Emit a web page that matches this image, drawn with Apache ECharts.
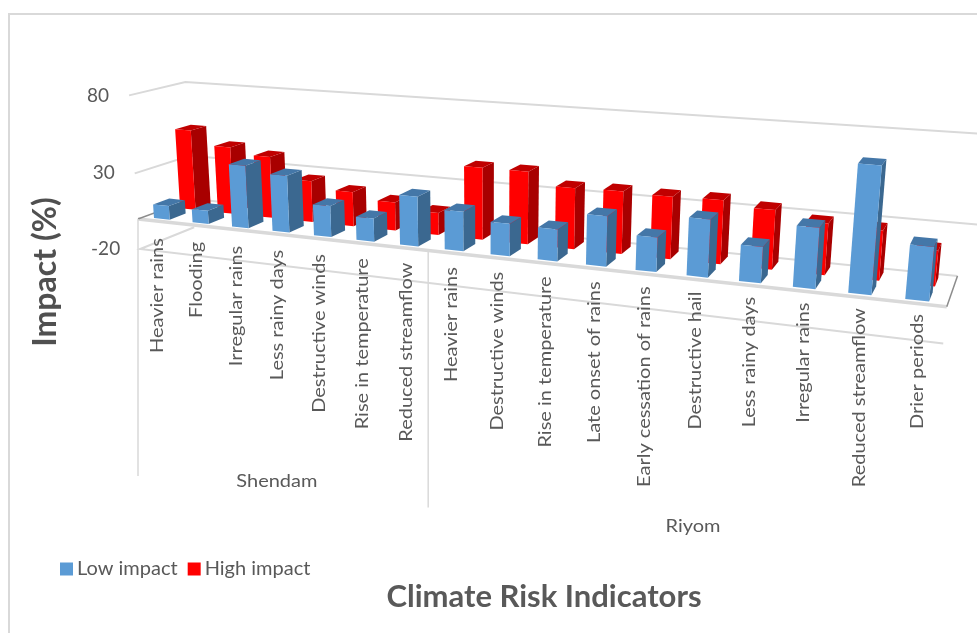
<!DOCTYPE html>
<html><head><meta charset="utf-8">
<style>html,body{margin:0;padding:0;background:#fff}#c{width:977px;height:633px}</style>
<script src="https://cdn.jsdelivr.net/npm/echarts@6/dist/echarts.min.js"></script>
</head><body><div id="c"></div>
<script>
const categories = ["Heavier rains","Flooding","Irregular rains","Less rainy days","Destructive winds","Rise in temperature","Reduced streamflow","Heavier rains","Destructive winds","Rise in temperature","Late onset of rains","Early cessation of rains","Destructive hail","Less rainy days","Irregular rains","Reduced streamflow","Drier periods"];
const lowImpact  = [9,8.5,40,36,19.5,14.5,30.5,24,19.5,19,29.5,20,33,20.5,34,70,29.5];
const highImpact = [53,44,40,26.5,22,18,14,44.5,44.5,37,37.5,37,37.5,34.5,29.5,28.5,20];
const valueTicks = [80,30,-20];
const groups = [{name:"Shendam",at:3.5},{name:"Riyom",at:12.45}];
const separators = [0,7];
const FONT = 'Lato';
const TXT = '#595959';
const LINE = '#d9d9d9';
const N = categories.length;

// perspective model: three vanishing points
const VX=[-3085,-131], VY=[488,5080], VZ=[1100,-136];
const CX=-0.0118, CY=-0.00031, CZ=0.06, O=[138,219];
function proj(api,a,b,d){
  const p=api.coord([a,b]), o=api.coord([0,0]), e=api.coord([1,1]);
  const u=(p[0]-o[0])/(e[0]-o[0]), v=(p[1]-o[1])/(e[1]-o[1]);
  const w=1+u*CX+v*CY+d*CZ;
  return [(O[0]+u*CX*VX[0]+v*CY*VY[0]+d*CZ*VZ[0])/w,(O[1]+u*CX*VX[1]+v*CY*VY[1]+d*CZ*VZ[1])/w];
}
function barItem(front,side,top,d0,d1){
  return function(params,api){
    const i=api.value(0), val=api.value(1), a=i+0.27, b=i+0.68;
    const P=(u,v,d)=>proj(api,u,v,d);
    const poly=(pts,fill)=>({type:'polygon',shape:{points:pts},style:{fill:fill}});
    return {type:'group',children:[
      poly([P(b,0,d0),P(b,0,d1),P(b,val,d1),P(b,val,d0)],side),
      poly([P(a,val,d0),P(b,val,d0),P(b,val,d1),P(a,val,d1)],top),
      poly([P(a,0,d0),P(b,0,d0),P(b,val,d0),P(a,val,d0)],front)
    ]};
  };
}
const line=(pts,w,c)=>({type:'polyline',shape:{points:pts},style:{fill:null,stroke:c||LINE,lineWidth:w}});
const TX=1.11;
const option={
  animation:false,
  grid:{left:138,top:94,width:809,height:156,show:false},
  xAxis:{type:'value',min:0,max:N,show:false},
  yAxis:{type:'value',min:-20,max:80,interval:50,show:false},
  legend:{left:55,top:554,data:['Low impact','High impact'],icon:'rect',itemWidth:13,itemHeight:13,itemGap:10,
    textStyle:{fontFamily:FONT,fontSize:20,color:TXT,padding:[0,0,0,-1]}},
  graphic:[
    {type:'rect',z:-1,shape:{x:9,y:14,width:1100,height:800},style:{fill:'#fff',stroke:LINE,lineWidth:2}},
    {type:'text',x:46,y:272,rotation:Math.PI/2,z:5,style:{text:'Impact (%)',font:'bold 32px '+FONT,fill:'#505050',align:'center',verticalAlign:'middle'}},
    {type:'text',x:544,y:597,z:5,style:{text:'Climate Risk Indicators',font:'bold 31px '+FONT,fill:TXT,align:'center',verticalAlign:'middle'}}
  ],
  series:[
    {type:'custom',name:'walls',coordinateSystem:'cartesian2d',silent:true,z:1,data:valueTicks.map(v=>[0,v]),
     renderItem(p,api){
       const v=api.value(1);
       const P=(u,val,d)=>proj(api,u,val,d);
       const kids=[];
       if(v===-20){ kids.push(line([P(0,v,1),P(0,v,0),P(N,v,0)],2)); }
       else kids.push(line([P(0,v,0),P(0,v,1),P(N+0.4,v,1)],2));
       const t=P(0,v,0);
       kids.push({type:'text',x:t[0]-20,y:t[1]+0,style:{text:String(v),font:'19px '+FONT,fill:TXT,align:'right',verticalAlign:'middle'}});
       if(p.dataIndex===0){
         kids.push(line([P(0,0,0),P(N,0,0)],3.5));
         kids.push(line([P(0,0,1),P(N,0,1)],2));
         kids.push(line([P(0,0,0),P(0,0,1)],1.5,'#8c8c8c'));
         kids.push(line([P(N,0,0),P(N,0,1)],1.5,'#8c8c8c'));
       }
       return {type:'group',children:kids};
     }},
    {type:'custom',name:'High impact',coordinateSystem:'cartesian2d',silent:true,z:2,itemStyle:{color:'#FF0000'},
     data:highImpact.map((v,i)=>[i,v]),renderItem:barItem('#FF0000','#A80000','#C00000',0.575,0.865)},
    {type:'custom',name:'Low impact',coordinateSystem:'cartesian2d',silent:true,z:3,itemStyle:{color:'#5B9BD5'},
     data:lowImpact.map((v,i)=>[i,v]),renderItem:barItem('#5B9BD5','#3B6890','#4477A8',0.1,0.39)},
    {type:'custom',name:'labels',coordinateSystem:'cartesian2d',silent:true,z:4,data:categories.map((c,i)=>[i,0]),
     renderItem(p,api){
       const i=api.value(0), f=proj(api,i+0.5,0,0);
       return {type:'text',x:f[0],y:f[1]+17-7*i/N,rotation:Math.PI/2,scaleX:TX,style:{text:categories[i],font:'18px '+FONT,fill:TXT,align:'right',verticalAlign:'middle'}};
     }},
    {type:'custom',name:'groups',coordinateSystem:'cartesian2d',silent:true,z:4,data:groups.map(g=>[g.at,0]),
     renderItem(p,api){
       const f=proj(api,api.value(0),0,0);
       return {type:'text',x:f[0],y:f[1]+247,scaleX:TX,style:{text:groups[p.dataIndex].name,font:'18px '+FONT,fill:TXT,align:'center',verticalAlign:'middle'}};
     }},
    {type:'custom',name:'seps',coordinateSystem:'cartesian2d',silent:true,z:1,data:separators.map(s=>[s,0]),
     renderItem(p,api){
       const f=proj(api,api.value(0),0,0);
       return line([[f[0],f[1]],[f[0],f[1]+257]],1.5);
     }}
  ]
};
echarts.init(document.getElementById('c')).setOption(option);
</script></body></html>
